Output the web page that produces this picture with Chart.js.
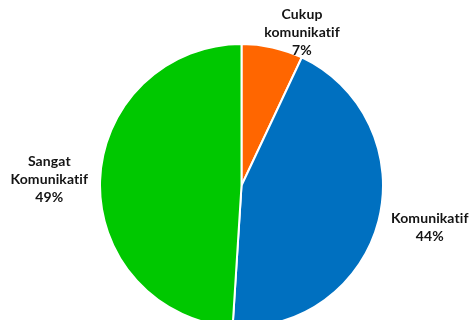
<!DOCTYPE html>
<html>
<head>
<meta charset="utf-8">
<script src="https://cdn.jsdelivr.net/npm/chart.js@4.4.1/dist/chart.umd.min.js"></script>
<style>
  html, body { margin: 0; padding: 0; background: #fff; overflow: hidden; }
  #chart { display: block; }
</style>
</head>
<body>
<canvas id="chart" width="469" height="320"></canvas>
<script>
// data
const categories = [['Cukup', 'komunikatif'], ['Komunikatif'], ['Sangat', 'Komunikatif']];
const values = [7, 44, 49];
const colors = ['#FF6600', '#0070C0', '#00C800'];

// manual nudge for the small slice label (Excel pushes it sideways)
const labelNudge = [[19, 22], [3, 0], [-1, 0]];

const outsideLabels = {
  id: 'outsideLabels',
  afterDatasetsDraw(chart) {
    const ctx = chart.ctx;
    const meta = chart.getDatasetMeta(0);
    const total = values.reduce((a, b) => a + b, 0);
    const lh = 18;
    ctx.save();
    ctx.font = 'bold 14px Lato, "DejaVu Sans", sans-serif';
    ctx.letterSpacing = '0.1px'; // also stops the "ti" ligature
    ctx.fillStyle = '#141414';
    ctx.textAlign = 'center';
    ctx.textBaseline = 'middle';
    meta.data.forEach((arc, i) => {
      const p = arc.getProps(['x', 'y', 'startAngle', 'endAngle', 'outerRadius'], true);
      const mid = (p.startAngle + p.endAngle) / 2;
      const dx = Math.cos(mid), dy = Math.sin(mid);
      const r = p.outerRadius + 11;
      const lines = categories[i].concat([Math.round(values[i] / total * 100) + '%']);
      const w = Math.max(...lines.map(l => ctx.measureText(l).width));
      const h = lines.length * lh;
      const cx = p.x + dx * r + dx * w / 2 + labelNudge[i][0];
      const cy = p.y + dy * r + dy * h / 2 + labelNudge[i][1];
      lines.forEach((l, k) => {
        ctx.fillText(l, cx, cy - h / 2 + lh * (k + 0.5));
      });
    });
    ctx.restore();
  }
};

new Chart(document.getElementById('chart'), {
  type: 'pie',
  data: {
    labels: categories.map(c => c.join(' ')),
    datasets: [{
      data: values,
      backgroundColor: colors,
      borderColor: '#ffffff',
      borderWidth: 2,
      radius: 141.5,
      clip: false
    }]
  },
  options: {
    responsive: false,
    animation: false,
    layout: { padding: { left: 14, top: 51, right: 0, bottom: 0 } },
    plugins: {
      legend: { display: false },
      tooltip: { enabled: false }
    }
  },
  plugins: [outsideLabels]
});
</script>
</body>
</html>
